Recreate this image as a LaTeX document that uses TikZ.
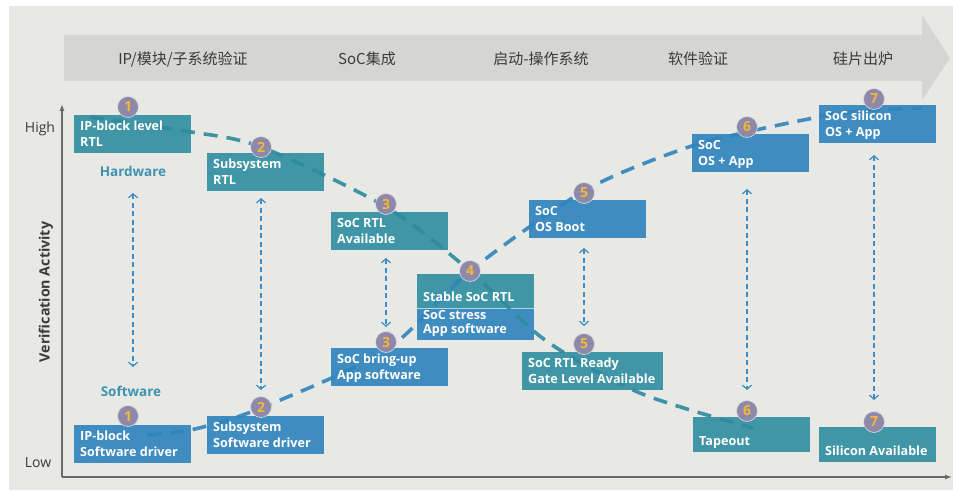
\documentclass[tikz,border=0pt]{standalone}
\usepackage{fontspec}
\setmainfont{Open Sans}
\newfontfamily\cjk{Noto Sans CJK SC}
\newfontfamily\semib{Open Sans}[FakeBold=2.2]
\usetikzlibrary{arrows.meta}
\definecolor{bgc}{HTML}{E8E9E5}
\definecolor{bandc}{HTML}{D5D5D1}
\definecolor{hwc}{HTML}{4096A6}
\definecolor{swc}{HTML}{3F8CC0}
\definecolor{hwl}{HTML}{2E8A9E}
\definecolor{swl}{HTML}{2F84BC}
\definecolor{arc}{HTML}{3A8DC5}
\definecolor{numc}{HTML}{8E89A8}
\definecolor{numy}{HTML}{F2B63A}
\definecolor{lblc}{HTML}{3D93B0}
\definecolor{axc}{HTML}{6A6A6A}
\definecolor{txc}{HTML}{3A3A3A}
\newcommand{\boxfont}{\bfseries\fontsize{12.6}{16}\selectfont}
\begin{document}
\begin{tikzpicture}[x=1pt,y=-1pt,
  hw/.style={fill=hwc, anchor=north west, inner sep=0pt, minimum height=38pt, minimum width=117pt},
  sw/.style={fill=swc, anchor=north west, inner sep=0pt, minimum height=38pt, minimum width=117pt},
  lbl/.style={text=white, font=\boxfont, align=left, anchor=south west, inner xsep=6pt, inner ysep=4pt, text depth=3pt},
  num/.style={circle, fill=numc, draw=white!70!numc, line width=0.6pt, minimum size=21pt, inner sep=0pt, text=numy, font=\bfseries\fontsize{14}{14}\selectfont},
  hwline/.style={draw=hwl, line width=3.6pt, dash pattern=on 14pt off 9pt, opacity=0.9},
  swline/.style={draw=swl, line width=3.6pt, dash pattern=on 14pt off 9pt, opacity=0.9},
  varrow/.style={draw=arc, line width=1.3pt, dash pattern=on 5pt off 3.5pt, {Straight Barb[length=4pt,width=9pt,line width=1.2pt]}-{Straight Barb[length=4pt,width=9pt,line width=1.2pt]}},
  band/.style={text=txc, font=\cjk\fontsize{15}{15}\selectfont},
  axis/.style={draw=axc, line width=1.3pt},
  side/.style={text=lblc, font=\bfseries\fontsize{13.5}{14}\selectfont}
]
\useasboundingbox (0,0) rectangle (953,492);
\fill[white] (0,0) rectangle (953,492);
\fill[bgc] (9,6) rectangle (953,490);
% top band arrow
\fill[bandc] (64,35) -- (922,35) -- (922,15) -- (950,58) -- (922,100) -- (922,81) -- (64,81) -- cycle;
\node[band] (p1) at (183,59) {IP/模块/子系统验证};
\node[band] (p2) at (367,59) {SoC集成};
\node[band] (p3) at (541,59) {启动-操作系统};
\node[band] (p4) at (698,59) {软件验证};
\node[band] (p5) at (863,59) {硅片出炉};
% axes
\coordinate (o) at (62,477);
\coordinate (yt) at (62,104);
\coordinate (xt) at (952,477);
\draw[axis, -{Latex[length=7pt,width=5pt]}] (o) -- (yt);
\draw[axis, -{Latex[length=7pt,width=5pt]}] (o) -- (xt);
\node[text=txc, font=\fontsize{14}{14}\selectfont, anchor=base] (hi) at (40,132) {High};
\node[text=txc, font=\fontsize{14}{14}\selectfont, anchor=base] (lo) at (38,467) {Low};
\node[text=txc, font=\bfseries\fontsize{14.2}{15}\selectfont, rotate=90] (va) at (46,292) {Verification Activity};
\node[side] (hwlab) at (133,171) {Hardware};
\node[side] (swlab) at (131,391) {Software};
% hardware boxes
\node[hw] (b1) at (74,115) {};
\node[hw] (b2) at (207,153) {};
\node[hw] (b3) at (331,212) {};
\node[hw, minimum height=34pt] (b4) at (417,274) {};
\node[sw, minimum height=32pt] (b4s) at (417,308) {};
\draw[white!60!hwc, line width=0.8pt] (b4s.north west) -- (b4s.north east);
\node[hw, minimum width=141pt] (b5) at (522,352) {};
\node[hw, minimum height=35pt] (b6) at (693,417) {};
\node[hw, minimum height=35pt] (b7) at (819,427) {};
% software boxes
\node[sw] (s1b) at (74,425) {};
\node[sw] (s2b) at (207,416) {};
\node[sw] (s3b) at (331,348) {};
\node[sw] (s5b) at (529,200) {};
\node[sw] (s6b) at (692,134) {};
\node[sw] (s7b) at (819,105) {};
% path coordinates
\coordinate (h0) at (90,117);
\coordinate (h1) at (185,131);
\coordinate (h2) at (261,147);
\coordinate (h3) at (386,207);
\coordinate (h4) at (470,271);
\coordinate (h5) at (545,340);
\coordinate (h6) at (640,393);
\coordinate (h7) at (753,428);
\coordinate (w0) at (147,435);
\coordinate (w1) at (195,429);
\coordinate (w2) at (261,408);
\coordinate (w3) at (386,350);
\coordinate (w4) at (470,271);
\coordinate (w5) at (584,191);
\coordinate (w6) at (680,150);
\coordinate (w7) at (747,132);
\coordinate (w8) at (843,113);
\coordinate (w9) at (922,108);
\draw[hwline] plot[smooth, tension=0.5] coordinates {(h0) (h1) (h2) (h3) (h4) (h5) (h6) (h7)};
\draw[swline] plot[smooth, tension=0.5] coordinates {(w0) (w1) (w2) (w3) (w4) (w5) (w6) (w7) (w8) (w9)};
% box texts
\node[lbl] (t1) at (b1.south west) {IP-block level\\RTL};
\node[lbl] (t2) at (b2.south west) {Subsystem\\RTL};
\node[lbl] (t3) at (b3.south west) {SoC RTL\\Available};
\node[lbl] (t4) at (b4.south west) {Stable SoC RTL};
\node[lbl, font=\bfseries\fontsize{12.6}{14}\selectfont] (t4s) at (b4s.south west) {SoC stress\\App software};
\node[lbl] (t5) at (b5.south west) {SoC RTL Ready\\Gate Level Available};
\node[lbl] (t6) at (b6.south west) {Tapeout};
\node[lbl] (t7) at (b7.south west) {Silicon Available};
\node[lbl] (u1) at (s1b.south west) {IP-block\\Software driver};
\node[lbl] (u2) at (s2b.south west) {Subsystem\\Software driver};
\node[lbl] (u3) at (s3b.south west) {SoC bring-up\\App software};
\node[lbl] (u5) at (s5b.south west) {SoC\\OS Boot};
\node[lbl] (u6) at (s6b.south west) {SoC\\OS + App};
\node[lbl] (u7) at (s7b.south west) {SoC silicon\\OS + App};
% vertical dashed arrows
\coordinate (a1t) at (133,193); \coordinate (a1b) at (133,367);
\coordinate (a2t) at (261,198); \coordinate (a2b) at (261,390);
\coordinate (a3t) at (386,258); \coordinate (a3b) at (386,327);
\coordinate (a5t) at (584,248); \coordinate (a5b) at (584,326);
\coordinate (a6t) at (747,189); \coordinate (a6b) at (747,390);
\coordinate (a7t) at (874,155); \coordinate (a7b) at (874,400);
\draw[varrow] (a1t) -- (a1b);
\draw[varrow] (a2t) -- (a2b);
\draw[varrow] (a3t) -- (a3b);
\draw[varrow] (a5t) -- (a5b);
\draw[varrow] (a6t) -- (a6b);
\draw[varrow] (a7t) -- (a7b);
% number circles
\node[num] (n1t) at (128,107) {1};
\node[num] (n2t) at (261,147) {2};
\node[num] (n3t) at (386,204) {3};
\node[num] (n4) at (470,271) {4};
\node[num] (n5t) at (584,193) {5};
\node[num] (n6t) at (747,127) {6};
\node[num] (n7t) at (874,99) {7};
\node[num] (n1b) at (128,416) {1};
\node[num] (n2b) at (261,407) {2};
\node[num] (n3b) at (386,342) {3};
\node[num] (n5b) at (584,344) {5};
\node[num] (n6b) at (747,411) {6};
\node[num] (n7b) at (874,422) {7};
\end{tikzpicture}
\end{document}
